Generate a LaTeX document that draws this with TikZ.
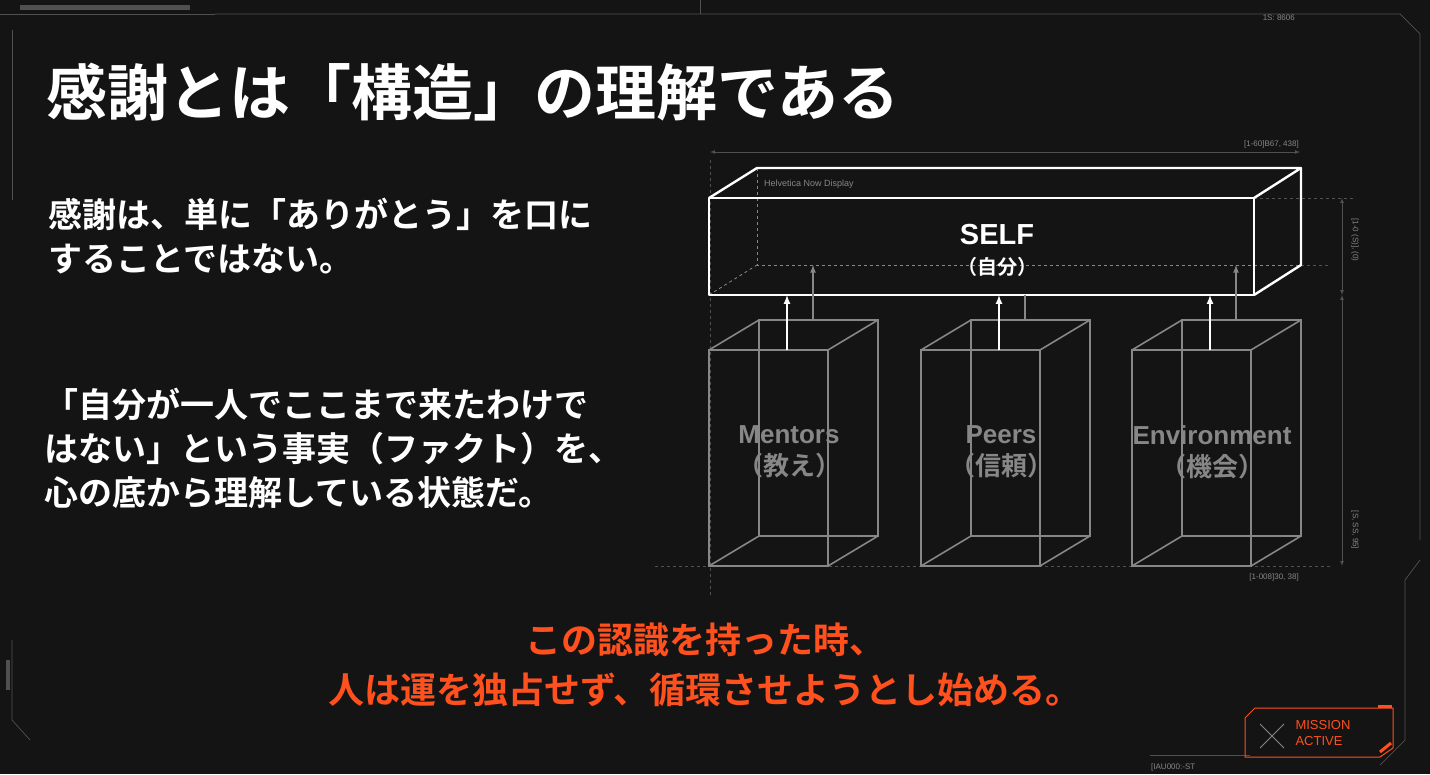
\documentclass[tikz,border=0pt]{standalone}
\usepackage{fontspec}
\setmainfont{Noto Sans CJK JP}
\newfontfamily\cjkbold{Noto Sans CJK JP Bold}
\newfontfamily\smallsans{Liberation Sans}
\newfontfamily\labelsans{Liberation Sans Bold}
\usetikzlibrary{positioning}
\usetikzlibrary{calc}
\definecolor{bgdark}{RGB}{20,20,20}
\definecolor{wire}{RGB}{135,135,135}
\definecolor{frameg}{RGB}{80,80,80}
\definecolor{morange}{RGB}{255,80,30}
\tikzset{wirebox/.style={draw=wire, line width=1.6pt}}
\tikzset{selfbox/.style={draw=white, line width=2.4pt}}
\begin{document}
\begin{tikzpicture}[x=1pt, y=-1pt,
    hidden/.style={draw=wire, dashed, line width=0.8pt},
    dimline/.style={draw=frameg, line width=0.7pt},
    uparrow/.style={-latex, white, line width=2pt},
    greyarrow/.style={-latex, wire, line width=1.6pt},
    tag/.style={font=\smallsans\fontsize{8}{9}\selectfont, text=wire, inner sep=1pt},
    boxlabel/.style={font=\cjkbold\fontsize{26}{32}\selectfont, text=wire, align=center},
]
\fill[bgdark] (0,0) rectangle (1430,774);
\useasboundingbox (0,0) rectangle (1430,774);

% frame
\draw[dimline] (0,14) -- (215,14);
\fill[frameg] (20,5) rectangle (190,10);
\draw[dimline] (215,14) -- (1400,14) -- (1420,34) -- (1420,540);
\draw[dimline] (1420,560) -- (1405,580) -- (1405,740) -- (1380,765);
\draw[dimline] (12,30) -- (12,200);
\draw[dimline] (12,640) -- (12,720) -- (30,740);
\fill[frameg] (6,660) rectangle (10,690);
\draw[dimline] (700,0) -- (700,14);
\draw[dimline] (1150,755) -- (1250,755);
\node[tag, anchor=west] (tagbl) at (1150,767) {[IAU000:-ST};
\node[tag, anchor=east] (tagtr) at (1296,18) {1S: 8606};

% title and body
\node[anchor=west, font=\cjkbold\fontsize{61}{70}\selectfont, text=white, inner sep=0] (title) at (46,92) {感謝とは「構造」の理解である};
\node[anchor=north west, font=\cjkbold\fontsize{34}{44}\selectfont, text=white, align=left, inner sep=0] (intro) at (48,198) {感謝は、単に「ありがとう」を口に\\することではない。};
\node[anchor=north west, font=\cjkbold\fontsize{34}{44}\selectfont, text=white, align=left, inner sep=0] (fact) at (44,388) {「自分が一人でここまで来たわけで\\はない」という事実（ファクト）を、\\心の底から理解している状態だ。};
\node[font=\cjkbold\fontsize{36}{50}\selectfont, text=morange, align=center] (insight) at (705,665) {この認識を持った時、\\人は運を独占せず、循環させようとし始める。};

% guides and dimensions
\draw[dimline, dashed] (710,160) -- (710,595);
\draw[dimline, dashed] (1254,198) -- (1355,198);
\draw[dimline, dashed] (655,566) -- (1330,566);
\draw[dimline, dashed] (1301,265) -- (1330,265);
\draw[dimline, latex-latex] (710,152) -- (1300,152);
\node[tag, anchor=south east] (tagtop) at (1300,149) {[1-60]B67, 438]};
\draw[dimline, latex-latex] (1342,198) -- (1342,295);
\draw[dimline, latex-latex] (1342,295) -- (1342,566);
\node[tag, rotate=-90] (tagr1) at (1355,240) {[1-0 (S)], (0)};
\node[tag, rotate=-90] (tagr2) at (1355,530) {[S, SS, 95]};
\node[tag, anchor=north east] (tagbot) at (1300,572) {[1-008]30, 38]};

% SELF box
\draw[hidden] (757,168) -- (757,265) -- (1301,265);
\draw[hidden] (709,295) -- (757,265);
\draw[selfbox, line join=round] (709,198) rectangle (1254,295);
\draw[selfbox, line join=round] (709,198) -- (757,168) -- (1301,168) -- (1254,198);
\draw[selfbox, line join=round] (1301,168) -- (1301,265) -- (1254,295);
\node[tag, anchor=west, font=\smallsans\fontsize{9}{10}\selectfont] (fontnote) at (763,184) {Helvetica Now Display};
\node[font=\labelsans\fontsize{29}{32}\selectfont, text=white, align=center] (self) at (997,250) {SELF\\[-2pt]{\cjkbold\fontsize{20}{24}\selectfont（自分）}};
\coordinate (selfbase) at (997,295);

% wire boxes
\foreach \x/\name/\word/\jp in {709/mentors/Mentors/教え, 921/peers/Peers/信頼, 1132/env/Environment/機会}{
  \draw[wirebox] (\x,350) rectangle ++(119,216);
  \draw[wirebox] (\x+50,320) rectangle ++(119,216);
  \draw[wirebox] (\x,350) -- ++(50,-30);
  \draw[wirebox] (\x+119,350) -- ++(50,-30);
  \draw[wirebox] (\x,566) -- ++(50,-30);
  \draw[wirebox] (\x+119,566) -- ++(50,-30);
  \node[boxlabel] (\name) at (\x+80,452) {{\labelsans\word}\\（\jp）};
  \coordinate (\name top) at (\x+78,350);
  \coordinate (\name back) at (\x+104,320);
}
\draw[uparrow] (mentorstop) -- (mentorstop |- selfbase);
\draw[uparrow] (peerstop) -- (peerstop |- selfbase);
\draw[uparrow] (envtop) -- (envtop |- selfbase);
\draw[greyarrow] (mentorsback) -- ++(0,-55);
\draw[wirebox] (peersback) -- ++(0,-25);
\draw[greyarrow] (envback) -- ++(0,-55);

% badge
\draw[morange, line width=1pt] (1255,708) -- (1393,708) -- (1393,748) -- (1380,757) -- (1245,757) -- (1245,718) -- cycle;
\draw[morange, line width=3pt] (1378,706) -- (1392,706);
\draw[morange, line width=3pt] (1380,752) -- (1391,743);
\draw[wire, line width=0.8pt] (1260,724) -- (1284,748) (1284,724) -- (1260,748);
\node[font=\smallsans\fontsize{13}{16}\selectfont, text=morange, align=left, anchor=west] (badge) at (1292,733) {MISSION\\ACTIVE};
\end{tikzpicture}
\end{document}
